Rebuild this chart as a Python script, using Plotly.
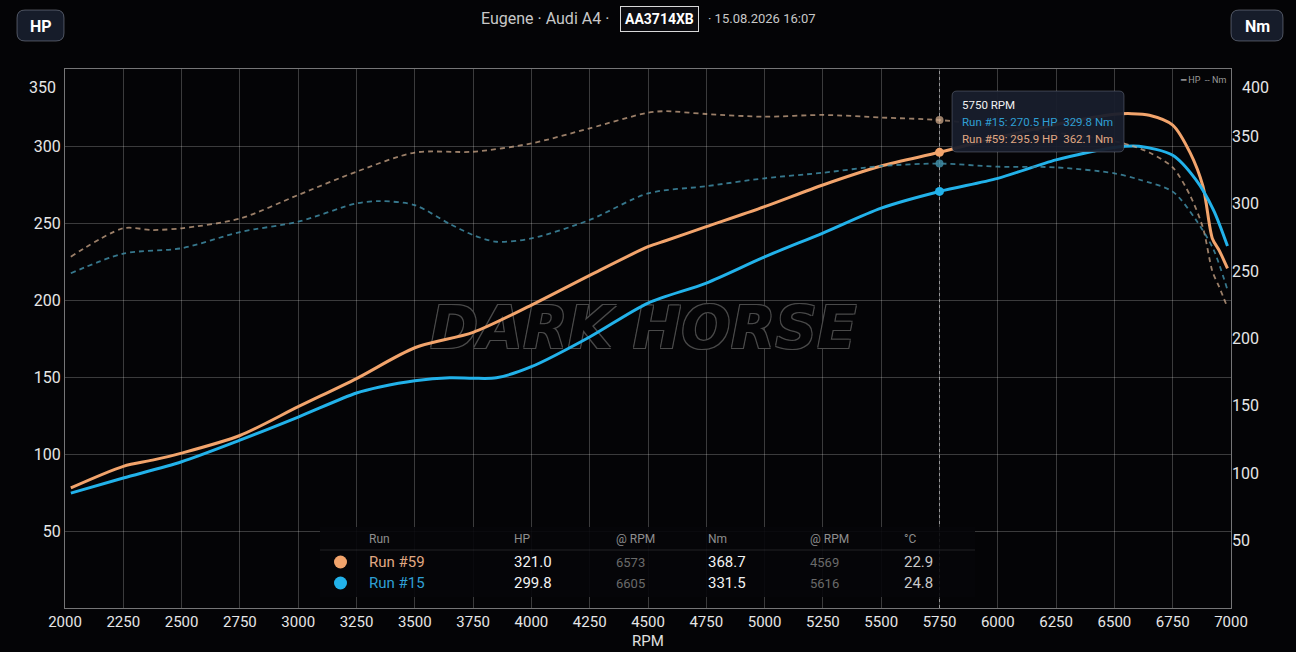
import plotly.graph_objects as go

# ---- data ----
rpm_59 = [2025, 2250, 2375, 2500, 2750, 3000, 3250, 3500, 3750, 4000, 4250, 4500, 4575,
          4750, 5000, 5250, 5500, 5750, 6000, 6250, 6500, 6575, 6650, 6750, 6825, 6880,
          6920, 6950, 6985]
hp_59 = [78, 92, 96, 100.6, 112, 130.7, 149, 169, 179, 196.7, 216, 234.6, 238.5,
         247.6, 260.6, 274.7, 287, 295.9, 305.5, 314, 320.6, 321.0, 320, 313.6, 295.5, 273.7,
         240, 232, 220.5]
nm_59 = [260.7, 281.8, 280.5, 281.8, 289, 306.5, 323.8, 338, 338.6, 344.8, 356, 367.6, 368.7,
         366.6, 364.6, 365.9, 364, 362.1, 357.6, 352.8, 346.4, 343, 338, 327, 306, 282,
         250, 238, 223]

rpm_15 = [2025, 2250, 2500, 2750, 3000, 3250, 3350, 3500, 3650, 3750, 3850, 4000, 4250, 4500,
          4750, 5000, 5250, 5500, 5750, 6000, 6250, 6500, 6605, 6750, 6850, 6925, 6985]
hp_15 = [74.6, 84.4, 95, 109, 124, 139.6, 143.5, 147.6, 149.5, 149.2, 149.5, 156.7, 176, 198,
         211, 228, 243.5, 259.7, 270.5, 279, 291, 299, 299.8, 294, 278, 258.4, 235]
nm_15 = [248.4, 263, 267, 279, 286.7, 300.3, 302, 299, 285, 276.8, 271.8, 274.3, 288, 307.7,
         313, 318.9, 323, 328, 329.8, 327.5, 327, 322.6, 318, 309, 288, 266, 236]

# cursor / tooltip values
cursor_rpm = 5750
tip_hp = {"59": 295.9, "15": 270.5}
tip_nm = {"59": 362.1, "15": 329.8}

# summary table
run_names = ["Run #59", "Run #15"]
peak_hp = ["321.0", "299.8"]
peak_hp_rpm = ["6573", "6605"]
peak_nm = ["368.7", "331.5"]
peak_nm_rpm = ["4569", "5616"]
temps = ["22.9", "24.8"]

hp_ticks = [50, 100, 150, 200, 250, 300]
nm_ticks = [50, 100, 150, 200, 250, 300, 350]

ORANGE = "#f2a46c"
BLUE = "#22b2ea"
ORANGE_D = "rgba(205,168,138,0.75)"
BLUE_D = "rgba(64,140,165,0.85)"
BG = "#040406"

# ---- pixel helpers (plot area 65..1231 x 69..608) ----
W, H = 1296, 652
L, R, T, B = 65, 65, 69, 44
PW, PH = W - L - R, H - T - B


def px(x):
    return (x - L) / PW


def py(y):
    return (H - B - y) / PH


def rrect(x0, y0, x1, y1, r):
    return (f"M {px(x0 + r)},{py(y0)} L {px(x1 - r)},{py(y0)} "
            f"Q {px(x1)},{py(y0)} {px(x1)},{py(y0 + r)} L {px(x1)},{py(y1 - r)} "
            f"Q {px(x1)},{py(y1)} {px(x1 - r)},{py(y1)} L {px(x0 + r)},{py(y1)} "
            f"Q {px(x0)},{py(y1)} {px(x0)},{py(y1 - r)} L {px(x0)},{py(y0 + r)} "
            f"Q {px(x0)},{py(y0)} {px(x0 + r)},{py(y0)} Z")


def note(x, y, text, size, color, anchor="left", **kw):
    return dict(xref="paper", yref="paper", x=px(x), y=py(y), xanchor=anchor, yanchor="middle",
                text=text, showarrow=False, font=dict(size=size, color=color), **kw)


fig = go.Figure()

# watermark, drawn first so the curves sit on top
fig.add_trace(go.Scatter(
    x=[4480], y=[178], mode="text", text=["DARK HORSE"], hoverinfo="skip",
    textfont=dict(family="DejaVu Sans", size=58, color=BG, weight="bold", style="italic",
                  shadow="1px 1px 0 #4a4a4a, -1px -1px 0 #4a4a4a, 1px -1px 0 #4a4a4a, -1px 1px 0 #4a4a4a"),
))

# torque (dashed, right axis)
fig.add_trace(go.Scatter(x=rpm_59, y=nm_59, mode="lines", yaxis="y2", name="Run #59 Nm",
                         line=dict(color=ORANGE_D, width=1.8, dash="5px,4px", shape="spline", smoothing=0.8)))
fig.add_trace(go.Scatter(x=rpm_15, y=nm_15, mode="lines", yaxis="y2", name="Run #15 Nm",
                         line=dict(color=BLUE_D, width=1.8, dash="5px,4px", shape="spline", smoothing=0.8)))

# power (solid, left axis)
fig.add_trace(go.Scatter(x=rpm_59, y=hp_59, mode="lines", name="Run #59 HP",
                         line=dict(color=ORANGE, width=3, shape="spline", smoothing=0.8)))
fig.add_trace(go.Scatter(x=rpm_15, y=hp_15, mode="lines", name="Run #15 HP",
                         line=dict(color=BLUE, width=3, shape="spline", smoothing=0.8)))

# cursor markers
fig.add_trace(go.Scatter(x=[cursor_rpm], y=[tip_nm["59"]], mode="markers", yaxis="y2",
                         marker=dict(color=ORANGE_D, size=8)))
fig.add_trace(go.Scatter(x=[cursor_rpm], y=[tip_nm["15"]], mode="markers", yaxis="y2",
                         marker=dict(color=BLUE_D, size=8)))
fig.add_trace(go.Scatter(x=[cursor_rpm], y=[tip_hp["59"]], mode="markers",
                         marker=dict(color=ORANGE, size=9)))
fig.add_trace(go.Scatter(x=[cursor_rpm], y=[tip_hp["15"]], mode="markers",
                         marker=dict(color=BLUE, size=9)))

shapes = []
annotations = []

# vertical cursor line
shapes.append(dict(type="line", xref="x", yref="paper", x0=cursor_rpm, x1=cursor_rpm, y0=0, y1=1,
                   line=dict(color="rgba(200,200,200,0.6)", width=1, dash="3px,3px"), layer="below"))

# header buttons
for x0, x1, label, ax in [(17, 64, "HP", 40.5), (1231, 1283, "Nm", 1257)]:
    shapes.append(dict(type="path", xref="paper", yref="paper", path=rrect(x0, 10, x1, 41, 8),
                       fillcolor="#161c2a", line=dict(color="rgba(200,210,230,0.35)", width=1)))
    annotations.append(note(ax, 26, f"<b>{label}</b>", 16, "#ffffff", anchor="center"))

# title line
annotations.append(note(611, 18, "Eugene · Audi A4 ·", 16, "#c8c8c8", anchor="right"))
annotations.append(note(659, 18.5, "<b>AA3714XB</b>", 14, "#ffffff", anchor="center", bgcolor="#0c0c10",
                        bordercolor="#d8d8d8", borderwidth=1, borderpad=4))
annotations.append(note(706, 18, "· 15.08.2026 16:07", 13, "#c8c8c8"))

# top tick labels squeezed inside like the original
annotations.append(note(58, 88, "350", 16, "#e6e6e6", anchor="right"))
annotations.append(note(1240, 88, "400", 16, "#e6e6e6"))

# mini legend top right
annotations.append(note(1228, 80, "━ HP  -- Nm", 9, "#9a9a9a", anchor="right"))

# x title
annotations.append(note(648, 641, "RPM", 15, "#e0e0e0", anchor="center"))

# tooltip
shapes.append(dict(type="path", xref="paper", yref="paper", path=rrect(952, 91, 1124, 152, 5),
                   fillcolor="rgba(24,30,44,0.95)", line=dict(color="rgba(200,210,230,0.25)", width=1)))
tip_lines = [
    (f"{cursor_rpm} RPM", "#f0f0f0", 105),
    (f"Run #15: {tip_hp['15']} HP  {tip_nm['15']} Nm", "#2f9fd4", 122),
    (f"Run #59: {tip_hp['59']} HP  {tip_nm['59']} Nm", "#e0a883", 139),
]
for txt, col, yy in tip_lines:
    annotations.append(note(960, yy, txt, 11.5, col))

# summary table
shapes.append(dict(type="rect", xref="paper", yref="paper", x0=px(320), x1=px(975), y0=py(527), y1=py(597),
                   fillcolor="rgba(6,6,9,0.9)", line=dict(width=0)))
shapes.append(dict(type="line", xref="paper", yref="paper", x0=px(320), x1=px(975), y0=py(550), y1=py(550),
                   line=dict(color="rgba(255,255,255,0.12)", width=1)))
col_x = [367, 512, 614, 706, 808, 902]
headers = ["Run", "HP", "@ RPM", "Nm", "@ RPM", "°C"]
for cx, h in zip(col_x, headers):
    annotations.append(note(cx, 539, h, 12, "#8e8e8e"))
row_cols = [ORANGE, BLUE]
for i, yy in enumerate([562, 583]):
    shapes.append(dict(type="circle", xref="paper", yref="paper", x0=px(334), x1=px(347),
                       y0=py(yy - 6.5), y1=py(yy + 6.5), fillcolor=row_cols[i], line=dict(width=0)))
    cells = [
        (run_names[i], 15, "#e0a883" if i == 0 else "#2f9fd4"),
        (peak_hp[i], 15, "#f2f2f2"),
        (peak_hp_rpm[i], 13, "#6a6a6a"),
        (peak_nm[i], 15, "#f2f2f2"),
        (peak_nm_rpm[i], 13, "#6a6a6a"),
        (temps[i], 15, "#c8c8c8"),
    ]
    for cx, (txt, sz, col) in zip(col_x, cells):
        annotations.append(note(cx, yy, txt, sz, col))

fig.update_layout(
    width=W, height=H,
    margin=dict(l=L, r=R, t=T, b=B),
    paper_bgcolor=BG, plot_bgcolor=BG,
    font=dict(family="Roboto", color="#e0e0e0"),
    showlegend=False,
    hovermode=False,
    xaxis=dict(range=[2000, 7000], dtick=250, tick0=2000, showgrid=True,
               gridcolor="rgba(255,255,255,0.22)", gridwidth=1, zeroline=False,
               showline=True, linecolor="rgba(255,255,255,0.45)", mirror=True,
               tickfont=dict(size=15, color="#e6e6e6"), ticks=""),
    yaxis=dict(range=[0, 350], tickvals=hp_ticks, showgrid=True,
               gridcolor="rgba(255,255,255,0.22)", gridwidth=1, zeroline=False,
               showline=True, linecolor="rgba(255,255,255,0.45)", mirror=True,
               tickfont=dict(size=16, color="#e6e6e6"), ticks=""),
    yaxis2=dict(range=[0, 400], tickvals=nm_ticks, overlaying="y", side="right",
                showgrid=False, zeroline=False, showline=False,
                tickfont=dict(size=16, color="#e6e6e6"), ticks=""),
    shapes=shapes,
    annotations=annotations,
)

fig.write_html("out.html", config={"displayModeBar": False},
               post_script="document.body.style.margin='0';document.body.style.background='#040406';")
